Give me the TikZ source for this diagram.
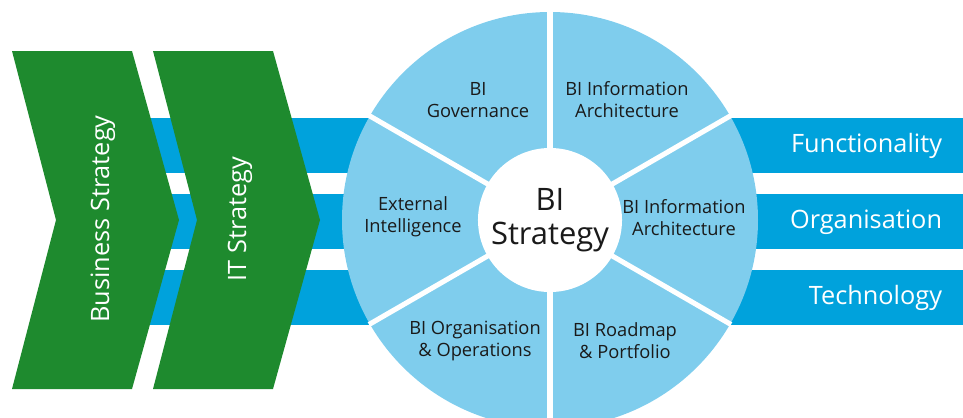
\documentclass[tikz,border=0pt]{standalone}
\usepackage{fontspec}
\setmainfont{Open Sans}
\usetikzlibrary{positioning}
\definecolor{green}{RGB}{30,138,46}
\definecolor{blue}{RGB}{0,162,220}
\definecolor{lightblue}{RGB}{127,205,237}
\definecolor{ink}{RGB}{26,26,26}

\begin{document}
\begin{tikzpicture}[
    x=0.025cm, y=0.025cm,
    bar/.style={fill=blue},
    chevron/.style={fill=green},
    gap/.style={draw=white, line width=3.6pt},
    seg/.style={align=center, text=ink, font=\fontsize{13}{15.6}\selectfont},
    core/.style={circle, fill=white, minimum size=3.6cm, inner sep=0pt, align=center, text=ink, font=\fontsize{22}{26}\selectfont},
    lane/.style={anchor=east, text=white, font=\fontsize{18}{21}\selectfont},
    phase/.style={rotate=90, text=white, font=\fontsize{18}{21}\selectfont}
]
    \clip (0,0) rectangle (963,417);

    % three bars running behind the chevrons and the wheel
    \foreach \y in {244,168,92}
        \fill[bar] (100,\y) rectangle (963,\y+55);

    % chevrons
    \foreach \x in {12,153}
        \fill[chevron] (\x,366) -- (\x+120,366) -- (\x+167,197) -- (\x+120,28)
            -- (\x,28) -- (\x+44,197) -- cycle;
    \node[phase] (business) at (103,198) {Business Strategy};
    \node[phase] (it) at (240,198) {IT Strategy};

    % the wheel
    \fill[lightblue] (550,197) circle (208);
    \foreach \a in {30,90,...,330}
        \draw[gap] (550,197) -- ++(\a:209);
    \node[core] (bi) at (550,197) {BI\\[-2pt]Strategy};

    \node[seg] (gov) at (478,317) {BI\\Governance};
    \node[seg] (infotop) at (627,317) {BI Information\\Architecture};
    \node[seg] (inforight) at (684,199) {BI Information\\Architecture};
    \node[seg] (ext) at (413,200) {External\\Intelligence};
    \node[seg] (orgops) at (475,76) {BI Organisation\\\& Operations};
    \node[seg] (roadmap) at (625,76) {BI Roadmap\\\& Portfolio};

    % bar labels
    \node[lane] (func) at (947,271) {Functionality};
    \node[lane] (org) at (947,195) {Organisation};
    \node[lane] (tech) at (947,119) {Technology};
\end{tikzpicture}
\end{document}
